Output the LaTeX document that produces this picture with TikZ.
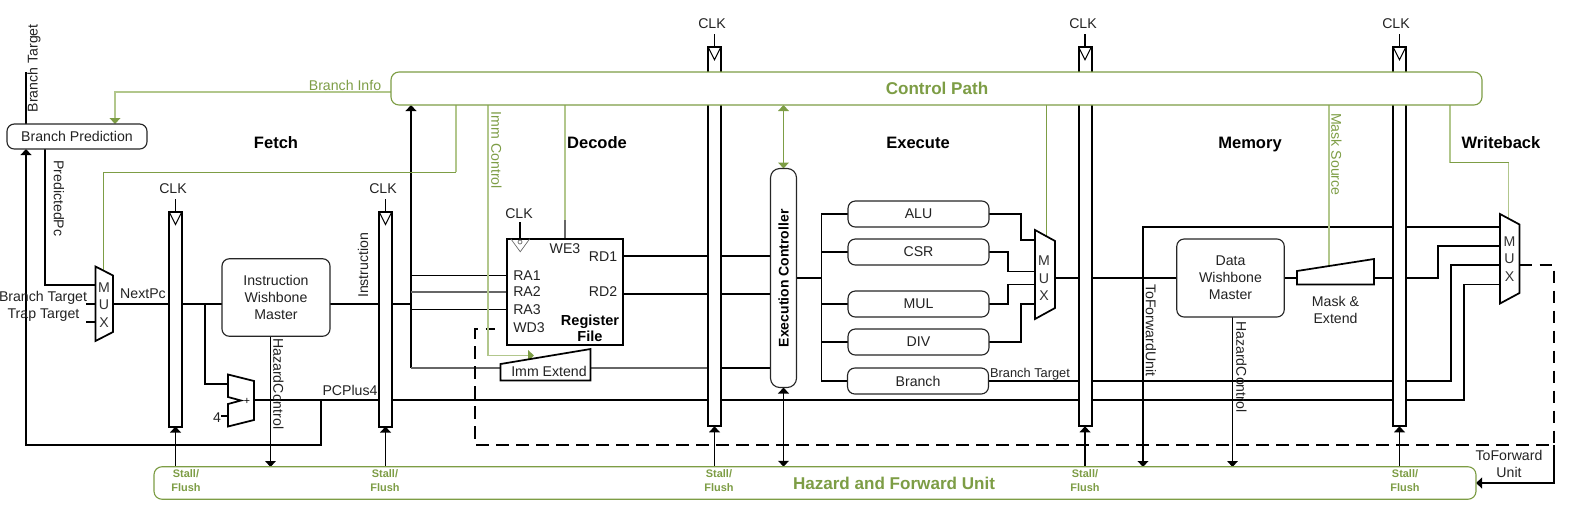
\documentclass[tikz,border=0pt]{standalone}
\usepackage{fontspec}
\setmainfont{Liberation Sans}
\usetikzlibrary{arrows.meta,backgrounds}
\definecolor{gr}{HTML}{7D9D45}
\definecolor{pale}{HTML}{B2C78C}
\definecolor{txt}{HTML}{222222}
\tikzset{
  wh/.style 2 args={minimum width=#1*0.75pt,minimum height=#2*0.75pt,inner sep=0pt,outer sep=0pt},
  lab/.style={inner sep=0pt,outer sep=0pt,text=txt,font=\fontsize{10.6}{12.8}\selectfont,align=center,yshift=-0.6pt},
  smlab/.style={lab,font=\fontsize{9.6}{11.5}\selectfont},
  phase/.style={lab,text=black,font=\bfseries\fontsize{12.4}{15}\selectfont},
  stall/.style={inner sep=0pt,outer sep=0pt,text=gr,align=center,yshift=-0.6pt,font=\bfseries\fontsize{8.2}{10.5}\selectfont},
  glab/.style={lab,text=gr},
  gtitle/.style={inner sep=0pt,outer sep=0pt,text=gr,font=\bfseries\fontsize{12.8}{15}\selectfont},
  regbar/.style={draw=black,fill=white,line width=1.5pt},
  unit/.style={draw=black!85,fill=white,line width=0.85pt,rounded corners=5.5pt,lab,yshift=0.6pt},
  ctl/.style={draw=gr,fill=white,line width=0.85pt,rounded corners=6pt},
  shapeb/.style={draw=black,fill=white,line width=1.3pt,line join=miter},
  wire/.style={draw=black,line width=1.25pt},
  stallw/.style={draw=black,line width=1.05pt},
  thin wire/.style={draw=black,line width=0.8pt},
  thick wire/.style={draw=black,line width=1.7pt},
  gwire/.style={draw=gr,line width=0.75pt},
  pwire/.style={draw=pale,line width=1.05pt},
  dwire/.style={draw=black,line width=1.1pt,dash pattern=on 9.5pt off 5.5pt},
  tip/.style={-{Triangle[width=8pt,length=4.5pt]}},
  gtip/.style={-{Triangle[width=8pt,length=4.5pt,color=gr]}},
  tips/.style={{Triangle[width=8pt,length=4.5pt]}-{Triangle[width=8pt,length=4.5pt]}},
}
\begin{document}
\begin{tikzpicture}[x=0.75pt,y=-0.75pt]
\useasboundingbox (0,0) rectangle (1569,511);

% pipeline registers
\node[regbar,wh={13}{215}] (reg1) at (175.5,319) {};
\node[regbar,wh={13}{215}] (reg2) at (385.5,319) {};
\node[regbar,wh={13}{379.5}] (reg3) at (714.5,236.5) {};
\node[regbar,wh={13}{379.5}] (reg4) at (1085,236.5) {};
\node[regbar,wh={13}{379.5}] (reg5) at (1399.5,236.5) {};
\foreach \r in {reg1,reg2,reg3,reg4,reg5}{
  \draw[thin wire] (\r.north west) -- ++(6.5,13) -- (\r.north east);
  \draw[thin wire] (\r.north) -- ++(0,-13);
}
\node[lab] (clk1) at (173,188) {CLK};
\node[lab] (clk2) at (383,188) {CLK};
\node[lab] (clk3) at (712,23) {CLK};
\node[lab] (clk4) at (1083,23) {CLK};
\node[lab] (clk5) at (1396,23) {CLK};

% bars
\node[ctl,wh={1091}{33}] (ctrl) at (936.5,88.5) {};
\node[gtitle] (ctrlt) at (937,88) {Control Path};
\node[ctl,wh={1322}{32.5}] (haz) at (815,483) {};
\node[gtitle] (hazt) at (894,483) {Hazard and Forward Unit};
\foreach \n/\x in {s1/186,s2/385,s3/719,s4/1085,s5/1405}
  \node[stall] (\n) at (\x,480) {Stall/\\Flush};

% phases
\node[phase] (fetch) at (276,142) {Fetch};
\node[phase] (decode) at (597,142) {Decode};
\node[phase] (execute) at (918,142) {Execute};
\node[phase] (memory) at (1250,143.5) {Memory};
\node[phase] (wb) at (1501,142) {Writeback};

% boxes
\node[unit,wh={140}{25}] (bp) at (77,136.5) {Branch Prediction};
\node[unit,wh={108}{77.5}] (iw) at (276,297.5) {Instruction\\Wishbone\\Master};
\node[unit,wh={107.5}{78}] (dw) at (1230.5,278) {Data\\Wishbone\\Master};
\node[unit,wh={141}{26}] (alu) at (918.5,214) {ALU};
\node[unit,wh={141}{26}] (csr) at (918.5,252) {CSR};
\node[unit,wh={141}{26}] (mul) at (918.5,304) {MUL};
\node[unit,wh={141}{26}] (div) at (918.5,342) {DIV};
\node[unit,wh={141}{26}] (br) at (918,381) {Branch};
\node[unit,wh={26}{219},rounded corners=7pt] (ec) at (783.5,278) {};
\node[lab,rotate=90,text=black,font=\bfseries\fontsize{10.5}{12}\selectfont] (ect) at (783.5,277.5) {Execution Controller};

% register file
\node[draw=black,fill=white,line width=1.4pt,wh={115.5}{106.5}] (rf) at (565,292) {};
\draw[draw=black!60,line width=0.5pt] (rf.north west) ++(3.5,0) -- ++(9.5,13) -- ++(9.5,-13);
\draw[draw=black!60,line width=0.5pt] (520,242) circle[radius=2];
\node[lab] (clkrf) at (519,213) {CLK};
\draw[thin wire] (520,222) -- (520,239);
\node[lab] (we3) at (565,248) {WE3};
\node[lab] (rd1) at (603,256) {RD1};
\node[lab] (rd2) at (603,291) {RD2};
\node[lab] (ra1) at (527,275) {RA1};
\node[lab] (ra2) at (527,291) {RA2};
\node[lab] (ra3) at (527,309) {RA3};
\node[lab] (wd3) at (529,327) {WD3};
\node[lab,text=black,font=\bfseries\fontsize{10.9}{12.6}\selectfont] (rft) at (590,327.5) {Register\\File};

% trapezoid shapes
\draw[shapeb] (95.5,266.5) -- (113,275.5) -- (113,332) -- (95.5,341) -- cycle;
\node[lab,text=black!80] (mux1) at (104,304) {M\\[0.4pt]U\\[0.4pt]X};
\draw[shapeb] (1035,230) -- (1055,241) -- (1055,308) -- (1035,319) -- cycle;
\node[lab,text=black!80] (mux2) at (1044,277.5) {M\\[0.4pt]U\\[0.4pt]X};
\draw[shapeb] (1500,214) -- (1519.5,224.5) -- (1519.5,293) -- (1500,303.5) -- cycle;
\node[lab,text=black!80] (mux3) at (1509.5,258) {M\\[0.4pt]U\\[0.4pt]X};
\draw[shapeb] (228,374.5) -- (254,381) -- (254,420) -- (228,426.5) -- (228,404) -- (241,400.5) -- (228,397) -- cycle;
\node[inner sep=0pt,font=\fontsize{8}{9}\selectfont] (plus) at (247,401) {+};
\node[lab] (four) at (217,417) {4};
\draw[shapeb] (500.5,364) -- (590.5,349) -- (590.5,380.5) -- (500.5,380.5) -- cycle;
\node[lab] (imm) at (549,371) {Imm Extend};
\draw[shapeb] (1297,271) -- (1374,259) -- (1374,284.5) -- (1297,284.5) -- cycle;
\node[lab] (maskt) at (1335.5,309.5) {Mask \&\\Extend};

% labels
\node[lab,rotate=90] (lbt) at (34,67.5) {Branch Target};
\node[lab,rotate=-90] (lpp) at (59,197.5) {PredictedPc};
\node[lab] (lbt2) at (43,297) {Branch Target};
\node[lab] (ltt) at (43.5,314) {Trap Target};
\node[lab] (lnp) at (143,293) {NextPc};
\node[lab,rotate=90] (lins) at (363,264.5) {Instruction};
\node[lab] (lpc) at (350,390) {PCPlus4};
\node[lab,rotate=-90] (lhc1) at (278.5,383) {HazardControl};
\node[lab,rotate=-90] (lhc2) at (1241.5,366) {HazardControl};
\node[lab,rotate=-90] (ltf) at (1151,329.5) {ToForwardUnit};
\node[smlab] (lbt3) at (1030,373.5) {Branch Target};
\node[lab] (ltfu) at (1509,463.5) {ToForward\\Unit};
\node[glab] (lbi) at (345,85) {Branch Info};
\node[glab,rotate=-90] (lic) at (496.5,149.5) {Imm Control};
\node[glab,rotate=-90] (lms) at (1336.5,153.5) {Mask Source};

\begin{scope}[on background layer]
% named ports
\coordinate (pcy) at (0,304);
\coordinate (p4) at (0,400);
\coordinate (bus) at (411,304);
% fetch
\draw[wire] (26,72) -- (26,124);
\draw[thick wire,tip] (321,400) -- (321,445) -- (26,445) -- (26,149);
\draw[wire] (45,149) -- (45,285) -- (95.5,285);
\draw[thin wire] (86,304) -- (95.5,304);
\draw[thin wire] (86,322) -- (95.5,322);
\draw[wire] (113,304) -- (reg1.west |- pcy);
\draw[wire] (reg1.east |- pcy) -- (222,304);
\draw[wire] (205,304) -- (205,384) -- (228,384);
\draw[wire] (330,304) -- (reg2.west |- pcy);
\draw[wire] (reg2.east |- pcy) -- (bus);
\draw[thin wire] (221,416) -- (228,416);
\draw[wire] (254,400) -- (reg5.west |- p4);
\draw[thin wire,tip] (270.5,336) -- (270.5,467);
% decode
\draw[wire,tip] (411,368) -- (411,105);
\draw[thin wire] (411,275.5) -- (507,275.5);
\draw[wire,draw=black!60] (411,292) -- (507,292);
\draw[thin wire] (411,309.5) -- (507,309.5);
\draw[wire,draw=black!60] (411,368) -- (500.5,368);
\draw[wire,draw=black!60] (590.5,368) -- (reg3.west |- 0,368);
\draw[wire] (reg3.east |- 0,368) -- (ec.west |- 0,368);
\draw[wire] (rf.east |- 0,256) -- (ec.west |- 0,256);
\draw[wire] (rf.east |- 0,294) -- (ec.west |- 0,294);
% execute
\draw[wire] (ec.east |- 0,278) -- (821.5,278);
\draw[wire] (alu.west) -- (821.5,214) -- (821.5,381) -- (br.west);
\draw[wire] (csr.west) -- (821.5,252);
\draw[wire] (mul.west) -- (821.5,304);
\draw[wire] (div.west) -- (821.5,342);
\draw[wire] (alu.east) -- (1021,214) -- (1021,240) -- (1035,240);
\draw[wire] (csr.east) -- (1008,252) -- (1008,271.5) -- (1035,271.5);
\draw[wire] (mul.east) -- (1008,304) -- (1008,284.5) -- (1035,284.5);
\draw[wire] (div.east) -- (1021,342) -- (1021,304) -- (1035,304);
\draw[wire] (1055,278) -- (dw.west);
\draw[wire] (br.east) -- (1451,381) -- (1451,265) -- (1500,265);
% memory
\draw[wire,tip] (1500,227) -- (1143,227) -- (1143,467);
\draw[wire] (dw.east) -- (1297,278);
\draw[wire] (1374,278) -- (1438,278) -- (1438,246) -- (1500,246);
\draw[thin wire,tip] (1232.5,317) -- (1232.5,467);
\draw[wire] (reg5.west |- p4) -- (1464,400) -- (1464,284.5) -- (1500,284.5);
% stall arrows
\foreach \r in {reg1,reg2,reg3,reg4,reg5}
  \draw[stallw,tip] (\r.south |- haz.north) -- (\r.south);
\draw[wire,tips] (ec.south) -- (ec.south |- haz.north);
% dashed
\draw[dwire] (1519.5,265) -- (1554,265) -- (1554,445) -- (475,445) -- (475,329) -- (495,329);
\draw[wire,tip] (1554,445) -- (1554,483) -- (haz.east |- 0,483);
% green
\draw[pwire,gtip] (ctrl.west |- 0,92) -- (115,92) -- (115,124);
\draw[pwire] (456,105) -- (456,172);
\draw[gwire] (456,172.5) -- (103.5,172.5) -- (103.5,270);
\draw[pwire,gtip] (488,105) -- (488,355.5) -- (534,355.5);
\draw[pwire] (565,105) -- (565,220);
\draw[thin wire,draw=black!60] (565,220) -- (565,239);
\draw[gwire] (1046.5,105) -- (1046.5,236);
\draw[pwire] (1329,105) -- (1329,266);
\draw[pwire] (1450,105) -- (1450,162.5);
\draw[gwire] (1450,162.5) -- (1508.5,162.5);
\draw[pwire] (1508.5,162.5) -- (1508.5,219);
\draw[gwire,line width=1.05pt,tips] (783.5,105) -- (783.5,168.5);
\end{scope}
\end{tikzpicture}
\end{document}
